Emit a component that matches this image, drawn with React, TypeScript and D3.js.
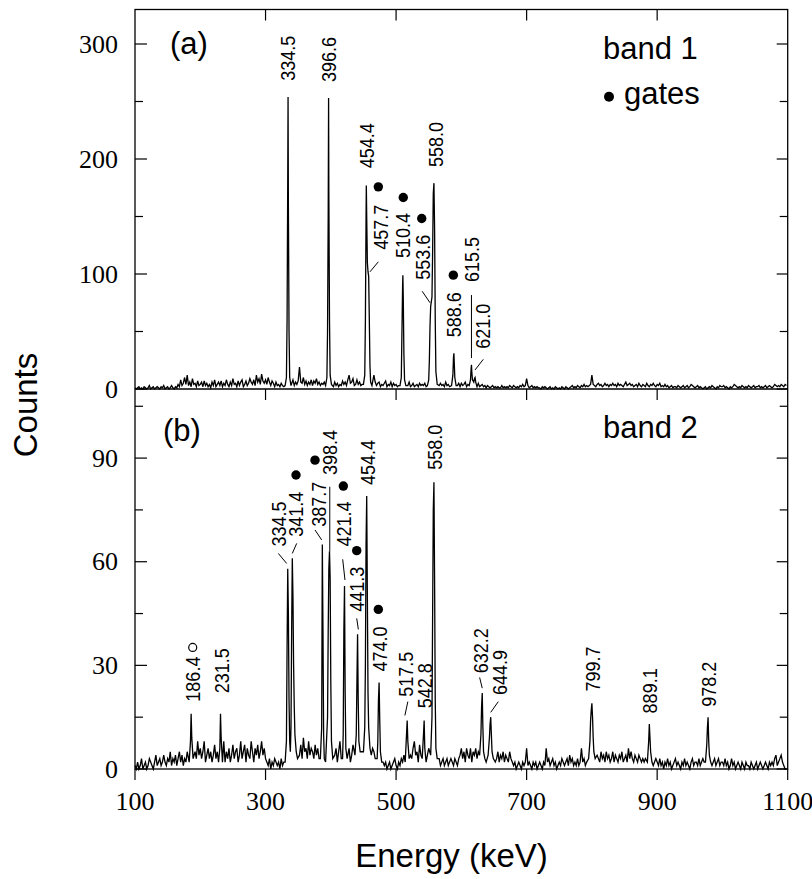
import React from 'react';
import * as d3 from 'd3';

// frame geometry (px)
const W = 812;
const H = 879;
const left = 135;
const right = 787.7;
const top = 9.5;
const mid = 389;
const bottom = 769;

const xTicks = [100, 300, 500, 700, 900, 1100];
const xInner = [300, 500, 700, 900];
const yMajorA = [0, 100, 200, 300];
const yMinorA = [50, 150, 250];
const yMajorB = [0, 30, 60, 90];
const yMinorB = [15, 45, 75, 105];

// background counts, 2 keV bins starting at 100 keV (one row = 100 keV)
const bgA = [
  1, 0, 1, 2, 0, 1, 0, 2, 1, 0, 1, 3, 0, 1, 2, 0, 1, 2, 1, 0, 2, 1, 3, 0, 1, 2, 0, 1, 3, 1, 0, 2, 1, 4, 2, 8, 3, 5, 10, 4, 12, 3, 6, 2, 9, 4, 5, 2, 7, 3,
  4, 6, 2, 7, 3, 5, 2, 4, 1, 6, 3, 8, 2, 4, 6, 3, 7, 2, 5, 3, 8, 4, 2, 6, 3, 9, 4, 5, 2, 7, 3, 6, 8, 2, 4, 7, 3, 5, 9, 6, 4, 8, 3, 12, 6, 9, 4, 13, 7, 5,
  8, 4, 10, 6, 3, 7, 5, 2, 6, 3, 4, 2, 5, 3, 2, 4, 3, 6, 2, 3, 5, 8, 3, 6, 4, 7, 19, 6, 5, 10, 4, 7, 3, 6, 4, 8, 3, 7, 5, 9, 4, 6, 3, 5, 4, 6, 3, 5, 2, 4,
  5, 3, 2, 6, 3, 5, 2, 4, 3, 7, 4, 6, 3, 8, 12, 5, 6, 9, 3, 4, 8, 4, 6, 3, 4, 3, 5, 4, 6, 5, 3, 5, 4, 12, 6, 3, 5, 6, 2, 4, 3, 5, 7, 2, 4, 3, 6, 2, 5, 3,
  4, 2, 3, 5, 2, 3, 3, 2, 4, 3, 6, 2, 3, 5, 2, 3, 4, 2, 5, 3, 4, 3, 5, 2, 3, 4, 2, 3, 4, 3, 4, 2, 4, 3, 5, 3, 4, 2, 6, 3, 4, 2, 3, 4, 3, 2, 4, 3, 5, 2,
  5, 3, 4, 6, 2, 4, 3, 5, 2, 3, 4, 2, 3, 5, 2, 3, 4, 2, 3, 1, 3, 2, 1, 2, 3, 1, 2, 1, 2, 1, 1, 3, 1, 2, 1, 2, 1, 3, 2, 1, 3, 2, 1, 2, 1, 3, 2, 4, 2, 3,
  9, 3, 1, 2, 3, 1, 2, 1, 2, 1, 1, 0, 2, 1, 2, 1, 0, 1, 2, 0, 1, 0, 2, 1, 0, 1, 0, 2, 1, 0, 2, 1, 0, 1, 2, 3, 1, 2, 1, 3, 2, 1, 3, 2, 4, 2, 3, 2, 3, 4,
  12, 4, 3, 2, 4, 5, 3, 4, 2, 3, 5, 3, 4, 2, 4, 3, 5, 3, 4, 2, 5, 3, 4, 3, 2, 4, 6, 3, 4, 5, 3, 4, 2, 3, 4, 2, 5, 3, 2, 4, 3, 2, 5, 3, 2, 4, 3, 5, 3, 2,
  4, 3, 5, 2, 3, 2, 4, 2, 3, 1, 2, 3, 1, 2, 2, 1, 3, 2, 1, 2, 3, 1, 2, 3, 1, 2, 4, 3, 2, 1, 2, 3, 1, 2, 1, 0, 1, 2, 0, 1, 2, 1, 3, 2, 1, 0, 2, 1, 3, 2,
  2, 3, 1, 2, 1, 0, 2, 1, 2, 4, 3, 2, 1, 2, 1, 3, 2, 1, 2, 1, 3, 2, 1, 2, 3, 1, 2, 2, 3, 1, 2, 1, 2, 3, 1, 2, 3, 2, 1, 2, 4, 3, 2, 3, 2, 4, 3, 2, 4, 3,
];

const bgB = [
  1, 0, 2, 0, 1, 3, 0, 1, 2, 0, 1, 3, 2, 1, 0, 2, 4, 1, 2, 3, 1, 2, 4, 2, 1, 3, 2, 5, 1, 3, 2, 4, 1, 3, 5, 2, 4, 1, 3, 2, 5, 2, 4, 7, 3, 2, 5, 3, 8, 4,
  6, 3, 5, 8, 2, 4, 6, 3, 5, 2, 4, 7, 3, 5, 2, 6, 3, 4, 8, 2, 5, 3, 6, 2, 4, 7, 3, 5, 6, 2, 4, 8, 3, 5, 7, 2, 6, 4, 3, 8, 5, 2, 6, 4, 7, 3, 5, 8, 4, 6,
  3, 2, 1, 3, 0, 2, 1, 3, 2, 1, 2, 0, 3, 1, 2, 1, 0, 2, 3, 1, 4, 2, 6, 3, 5, 8, 4, 7, 3, 9, 5, 6, 3, 8, 4, 6, 5, 3, 7, 4, 6, 3, 5, 4, 7, 3, 6, 5, 4, 3,
  5, 3, 7, 4, 6, 2, 5, 8, 3, 6, 4, 7, 3, 5, 6, 2, 4, 7, 3, 5, 6, 4, 8, 3, 5, 7, 4, 6, 3, 5, 8, 4, 6, 5, 3, 7, 4, 5, 6, 3, 2, 1, 2, 0, 1, 2, 0, 1, 2, 3,
  1, 0, 2, 1, 3, 2, 4, 2, 5, 3, 7, 4, 3, 6, 8, 4, 5, 2, 7, 4, 6, 3, 8, 5, 4, 6, 3, 5, 4, 7, 3, 2, 4, 3, 1, 2, 3, 1, 2, 3, 1, 2, 3, 2, 1, 3, 2, 1, 3, 4,
  6, 3, 5, 2, 6, 4, 3, 6, 2, 5, 4, 6, 3, 5, 2, 4, 6, 3, 5, 2, 3, 4, 2, 5, 3, 4, 2, 3, 5, 2, 4, 3, 5, 2, 4, 3, 2, 5, 3, 2, 1, 2, 0, 1, 2, 1, 0, 2, 1, 2,
  6, 1, 2, 1, 0, 2, 1, 2, 0, 1, 2, 1, 0, 2, 1, 6, 2, 3, 1, 2, 3, 1, 2, 0, 1, 2, 1, 3, 2, 1, 2, 3, 1, 4, 2, 3, 1, 2, 1, 3, 1, 2, 6, 2, 3, 1, 2, 3, 5, 4,
  4, 3, 5, 2, 4, 3, 2, 5, 3, 4, 2, 5, 3, 4, 2, 3, 5, 2, 4, 3, 2, 4, 3, 5, 2, 3, 4, 2, 6, 3, 5, 3, 2, 4, 3, 2, 4, 3, 2, 3, 2, 3, 4, 2, 1, 2, 3, 1, 2, 3,
  2, 1, 3, 1, 2, 0, 2, 1, 3, 1, 2, 0, 1, 2, 3, 1, 2, 1, 0, 2, 1, 3, 1, 2, 1, 0, 2, 3, 1, 2, 2, 1, 3, 1, 2, 3, 2, 4, 1, 2, 3, 2, 1, 2, 3, 1, 2, 3, 1, 2,
  2, 1, 3, 1, 2, 0, 1, 3, 1, 2, 0, 1, 2, 1, 0, 2, 1, 0, 2, 1, 1, 0, 2, 1, 0, 1, 2, 0, 1, 2, 1, 0, 1, 2, 1, 0, 2, 1, 2, 1, 3, 4, 1, 2, 3, 4, 2, 1, 0, 0,
];

type Pt = [number, number];

// peak profiles [keV, counts]
const peaksA: Pt[][] = [
  [[330, 3], [332, 10], [333, 60], [334, 180], [334.5, 254], [335, 160], [336, 50], [337, 10], [339, 3]],
  [[392, 3], [394, 10], [395, 50], [396, 150], [396.6, 253], [397, 170], [398, 60], [399, 12], [401, 4]],
  [[450, 4], [452, 12], [453, 60], [454, 150], [454.4, 177], [455, 150], [456, 110], [457, 102], [458, 98], [459, 60], [460, 20], [461, 6], [463, 3]],
  [[506, 3], [508, 10], [509, 50], [510, 90], [510.4, 99], [511, 80], [512, 30], [513, 8], [515, 3]],
  [[548, 3], [550, 8], [551, 25], [552, 55], [553, 72], [554, 76], [555, 80], [556, 120], [557, 170], [558, 179], [559, 140], [560, 60], [561, 15], [563, 4]],
  [[585, 3], [587, 12], [588, 28], [588.6, 31], [589, 25], [590, 10], [592, 3]],
  [[612, 3], [614, 8], [615, 18], [615.5, 21], [616, 15], [617, 8], [619, 6], [620, 9], [621, 10], [622, 6], [624, 2]],
];

const peaksB: Pt[][] = [
  [[183, 2], [185, 8], [186, 16], [187, 9], [189, 3]],
  [[228, 2], [230, 6], [231, 16], [232, 9], [234, 2]],
  [[330, 2], [332, 8], [333, 35], [334, 58], [335, 45], [336, 20], [337, 8], [338, 5], [339, 12], [340, 40], [341, 61], [342, 50], [343, 30], [344, 18], [345, 10], [347, 5], [349, 3]],
  [[384, 3], [386, 12], [387, 65], [388, 40], [389, 10], [390, 3], [392, 2], [395, 15], [396, 40], [397, 58], [398, 63], [399, 55], [400, 25], [401, 8], [403, 3]],
  [[418, 3], [419, 10], [420, 40], [421, 53], [422, 22], [423, 6], [425, 3]],
  [[437, 4], [439, 10], [440, 25], [441, 39], [442, 20], [443, 8], [445, 5]],
  [[450, 5], [452, 12], [453, 30], [454, 65], [455, 79], [456, 50], [457, 22], [458, 12], [460, 6]],
  [[471, 3], [472, 8], [473, 20], [474, 25], [475, 14], [476, 5], [478, 2]],
  [[514, 2], [516, 10], [517, 14], [518, 8], [520, 3]],
  [[540, 3], [542, 10], [543, 14], [544, 6], [546, 2]],
  [[553, 4], [555, 15], [556, 45], [557, 75], [558, 83], [559, 55], [560, 20], [561, 6], [563, 3]],
  [[628, 4], [630, 10], [631, 18], [632, 22], [633, 12], [634, 5], [636, 3]],
  [[641, 4], [643, 9], [644, 13], [645, 15], [646, 10], [647, 5], [649, 3]],
  [[795, 3], [797, 8], [798, 14], [799, 17], [800, 19], [801, 15], [802, 9], [803, 5], [805, 3]],
  [[885, 2], [887, 8], [888, 13], [889, 9], [890, 5], [892, 2]],
  [[974, 2], [976, 7], [977, 12], [978, 15], [979, 8], [980, 4], [982, 2]],
];

type Label = { t: string; e: number; c: number; lead?: [number, number, number, number] };

// e = label centre (keV), c = counts at the label's lower end, lead = leader line
const labelsA: Label[] = [
  { t: '334.5', e: 334.4, c: 268 },
  { t: '396.6', e: 397.2, c: 267 },
  { t: '454.4', e: 455, c: 192 },
  { t: '457.7', e: 477, c: 121, lead: [472.8, 110.6, 460, 101.9] },
  { t: '510.4', e: 509.8, c: 114 },
  { t: '553.6', e: 541.2, c: 95, lead: [540, 85, 552, 75] },
  { t: '558.0', e: 560.7, c: 193 },
  { t: '588.6', e: 588.7, c: 45 },
  { t: '615.5', e: 615.9, c: 93, lead: [615.5, 81.7, 615.5, 26.9] },
  { t: '621.0', e: 633.2, c: 35, lead: [633.6, 25.8, 620.9, 16.5] },
];

const labelsB: Label[] = [
  { t: '186.4', e: 188, c: 19.5 },
  { t: '231.5', e: 232.8, c: 21.9 },
  { t: '334.5', e: 320.9, c: 64.4, lead: [319.6, 62.4, 332.4, 59.5] },
  { t: '341.4', e: 346.4, c: 67.2, lead: [347.7, 65.3, 341, 62.4] },
  { t: '387.7', e: 382.2, c: 70.1, lead: [375.8, 69.2, 386, 66.3] },
  { t: '398.4', e: 398.8, c: 85.1, lead: [398.4, 81.7, 398.4, 63] },
  { t: '421.4', e: 419.2, c: 64.4, lead: [418.2, 60.7, 421.7, 54.7] },
  { t: '441.3', e: 439.7, c: 45.5, lead: [439.7, 43.6, 442.2, 40.4] },
  { t: '454.4', e: 457.4, c: 82.2 },
  { t: '474.0', e: 475.4, c: 28.2 },
  { t: '517.5', e: 515.3, c: 20.9, lead: [518, 19.5, 513.5, 15.5] },
  { t: '542.8', e: 544.3, c: 17.6 },
  { t: '558.0', e: 559.6, c: 86.6 },
  { t: '632.2', e: 629.8, c: 27.7, lead: [628, 26.5, 632, 23.4] },
  { t: '644.9', e: 659.2, c: 21.4, lead: [656.6, 19.5, 645, 16.4] },
  { t: '799.7', e: 801, c: 22.4 },
  { t: '889.1', e: 889, c: 16.1 },
  { t: '978.2', e: 978.4, c: 18 },
];

// gate markers [keV, counts]
const gatesA: Pt[] = [[472.8, 175.8], [511, 166.5], [539.3, 148.3], [587.7, 99]];
const gatesB: Pt[] = [[346.7, 85.1], [375.8, 89.4], [419.2, 81.9], [439.7, 63.2], [472.8, 46.2]];
const openB: Pt[] = [[188.4, 35.2]];

const sans = '"Liberation Sans", Arial, Helvetica, sans-serif';
const serif = '"Liberation Serif", "Times New Roman", serif';

function buildSpectrum(bg: number[], peaks: Pt[][]): Pt[] {
  const spans = peaks.map((p) => [p[0][0], p[p.length - 1][0]]);
  const base: Pt[] = bg
    .map((c, i) => [100 + 2 * i, c] as Pt)
    .filter(([e]) => !spans.some(([a, b]) => e >= a - 1 && e <= b + 1));
  return base.concat(...peaks).sort((a, b) => a[0] - b[0]);
}

const x = d3.scaleLinear().domain([100, 1100]).range([left, right]);
const yA = d3.scaleLinear().domain([0, 330]).range([mid, top]);
const yB = d3.scaleLinear().domain([0, 110]).range([bottom, mid]);

function Panel({ y, bg, peaks, labels, gates, open, major, minor }: any) {
  const line = d3.line<Pt>().x((d) => x(d[0])).y((d) => y(d[1]));
  const data = buildSpectrum(bg, peaks);
  return (
    <g>
      <path d={line(data) || ''} fill="none" stroke="#000" strokeWidth={1.3} />
      {major.map((v: number) => (
        <g key={'M' + v}>
          <line x1={left} x2={left + 12} y1={y(v)} y2={y(v)} stroke="#000" strokeWidth={1.2} />
          <line x1={right - 11} x2={right} y1={y(v)} y2={y(v)} stroke="#000" strokeWidth={1.2} />
          <text x={left - 17} y={y(v)} dy="0.33em" textAnchor="end" fontFamily={serif} fontSize={26}>
            {v}
          </text>
        </g>
      ))}
      {minor.map((v: number) => (
        <g key={'m' + v}>
          <line x1={left} x2={left + 8} y1={y(v)} y2={y(v)} stroke="#000" strokeWidth={1.2} />
          <line x1={right - 8} x2={right} y1={y(v)} y2={y(v)} stroke="#000" strokeWidth={1.2} />
        </g>
      ))}
      {labels.map((l: Label, i: number) => (
        <g key={'l' + i}>
          <text
            transform={`translate(${x(l.e)},${y(l.c)}) rotate(-90) scale(0.9,1)`}
            dy="0.36em"
            fontFamily={sans}
            fontSize={20}
          >
            {l.t}
          </text>
          {l.lead && (
            <line
              x1={x(l.lead[0])}
              y1={y(l.lead[1])}
              x2={x(l.lead[2])}
              y2={y(l.lead[3])}
              stroke="#000"
              strokeWidth={1}
            />
          )}
        </g>
      ))}
      {gates.map((g: Pt, i: number) => (
        <circle key={'g' + i} cx={x(g[0])} cy={y(g[1])} r={4.7} fill="#000" />
      ))}
      {open.map((g: Pt, i: number) => (
        <circle key={'o' + i} cx={x(g[0])} cy={y(g[1])} r={4} fill="none" stroke="#000" strokeWidth={1.2} />
      ))}
    </g>
  );
}

export default function App() {
  return (
    <svg width={W} height={H} style={{ position: 'absolute', left: 0, top: 0, background: '#fff' }}>
      <rect x={0} y={0} width={W} height={H} fill="#fff" />
      <Panel y={yA} bg={bgA} peaks={peaksA} labels={labelsA} gates={gatesA} open={[]} major={yMajorA} minor={yMinorA} />
      <Panel y={yB} bg={bgB} peaks={peaksB} labels={labelsB} gates={gatesB} open={openB} major={yMajorB} minor={yMinorB} />

      {/* frame */}
      <rect x={left} y={top} width={right - left} height={bottom - top} fill="none" stroke="#000" strokeWidth={1.3} />
      <line x1={left} x2={right} y1={mid} y2={mid} stroke="#000" strokeWidth={1.3} />

      {/* x ticks */}
      {xInner.map((t) => (
        <g key={'xi' + t}>
          <line x1={x(t)} x2={x(t)} y1={top} y2={top + 11} stroke="#000" strokeWidth={1.2} />
          <line x1={x(t)} x2={x(t)} y1={mid} y2={mid + 11} stroke="#000" strokeWidth={1.2} />
        </g>
      ))}
      {xTicks.map((t) => (
        <g key={'x' + t}>
          <line x1={x(t)} x2={x(t)} y1={bottom} y2={bottom + 11} stroke="#000" strokeWidth={1.2} />
          <text x={x(t)} y={810} textAnchor="middle" fontFamily={serif} fontSize={26}>
            {t}
          </text>
        </g>
      ))}

      {/* panel captions */}
      <text x={170} y={54} fontFamily={sans} fontSize={31}>(a)</text>
      <text x={603} y={59} fontFamily={sans} fontSize={31}>band 1</text>
      <circle cx={609} cy={96.7} r={5} fill="#000" />
      <text x={624} y={104} fontFamily={sans} fontSize={31}>gates</text>
      <text x={163} y={441} fontFamily={sans} fontSize={31}>(b)</text>
      <text x={603} y={438} fontFamily={sans} fontSize={31}>band 2</text>

      {/* axis titles */}
      <text x={451.5} y={867} textAnchor="middle" fontFamily={sans} fontSize={33}>Energy (keV)</text>
      <text transform="translate(37,405) rotate(-90)" textAnchor="middle" fontFamily={sans} fontSize={33}>Counts</text>
    </svg>
  );
}
